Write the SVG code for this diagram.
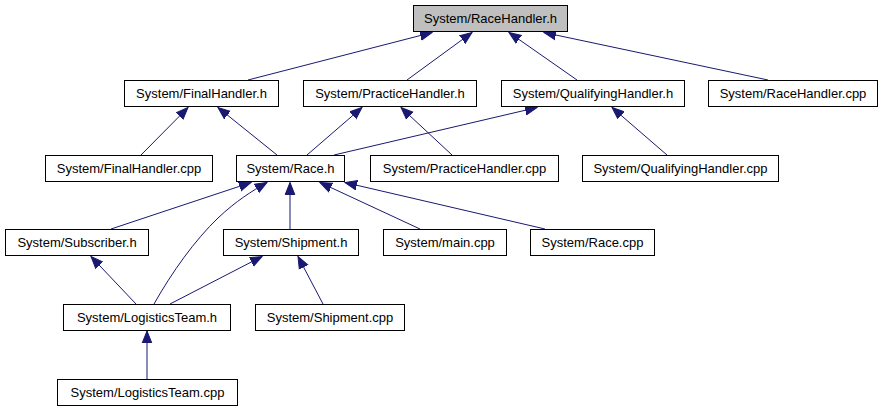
<svg xmlns="http://www.w3.org/2000/svg" width="883" height="411" viewBox="0 0 883 411">
<style>
.n rect{fill:#ffffff;stroke:#000000;stroke-width:1}
.n.root rect{fill:#bfbfbf}
.n text{font-family:"Liberation Sans",Arial,sans-serif;font-size:13px;fill:#000;text-anchor:middle}
.e path{fill:none;stroke:#191970;stroke-width:1;marker-end:url(#ah)}
</style>
<defs>
<marker id="ah" markerUnits="userSpaceOnUse" markerWidth="14" markerHeight="12" viewBox="0 -6 14 12" refX="12" refY="0" orient="auto">
<path d="M0,-4.8 L12,0 L0,4.8 Z" fill="#191970" stroke="#191970" stroke-width="1"/>
</marker>
</defs>
<rect width="883" height="411" fill="#ffffff"/>
<g id="edges" class="e">
<path d="M248,80 L432,32.5"/>
<path d="M407,80 L472,32.5"/>
<path d="M577,80 L509,32.5"/>
<path d="M768,80 L544,32.5"/>
<path d="M141,155 L188,107.5"/>
<path d="M277,155 L218,107.5"/>
<path d="M307,155 L362,107.5"/>
<path d="M452,155 L401,107.5"/>
<path d="M334,155 L537,107.5"/>
<path d="M667,155 L612,107.5"/>
<path d="M111,229 L251,182.5"/>
<path d="M154,304 C172,272 195,240 218,218 C236,201 252,191 267,182.5"/>
<path d="M290,229 L290,182.5"/>
<path d="M420,229 L320,182.5"/>
<path d="M545,229 L345,182.5"/>
<path d="M136,304 L91,256.5"/>
<path d="M170,304 L262,256.5"/>
<path d="M323,304 L298,256.5"/>
<path d="M147,379 L147,331"/>
</g>
<g id="n_racehandler_h" class="n root"><rect x="413.5" y="5.5" width="154" height="26"/><text x="490.5" y="23">System/RaceHandler.h</text></g>
<g id="n_finalhandler_h" class="n"><rect x="124.5" y="80.5" width="154" height="26"/><text x="201.5" y="98">System/FinalHandler.h</text></g>
<g id="n_practicehandler_h" class="n"><rect x="303.5" y="80.5" width="173" height="26"/><text x="390" y="98">System/PracticeHandler.h</text></g>
<g id="n_qualifyinghandler_h" class="n"><rect x="501.5" y="80.5" width="183" height="26"/><text x="593" y="98">System/QualifyingHandler.h</text></g>
<g id="n_racehandler_cpp" class="n"><rect x="708.5" y="80.5" width="169" height="26"/><text x="793" y="98">System/RaceHandler.cpp</text></g>
<g id="n_finalhandler_cpp" class="n"><rect x="45.5" y="155.5" width="167" height="26"/><text x="129" y="173">System/FinalHandler.cpp</text></g>
<g id="n_race_h" class="n"><rect x="236.5" y="155.5" width="108" height="26"/><text x="290.5" y="173">System/Race.h</text></g>
<g id="n_practicehandler_cpp" class="n"><rect x="370.5" y="155.5" width="188" height="26"/><text x="464.5" y="173">System/PracticeHandler.cpp</text></g>
<g id="n_qualifyinghandler_cpp" class="n"><rect x="582.5" y="155.5" width="196" height="26"/><text x="680.5" y="173">System/QualifyingHandler.cpp</text></g>
<g id="n_subscriber_h" class="n"><rect x="5.5" y="229.5" width="143" height="26"/><text x="77" y="247">System/Subscriber.h</text></g>
<g id="n_shipment_h" class="n"><rect x="223.5" y="229.5" width="135" height="26"/><text x="291" y="247">System/Shipment.h</text></g>
<g id="n_main_cpp" class="n"><rect x="383.5" y="229.5" width="123" height="26"/><text x="445" y="247">System/main.cpp</text></g>
<g id="n_race_cpp" class="n"><rect x="530.5" y="229.5" width="124" height="26"/><text x="592.5" y="247">System/Race.cpp</text></g>
<g id="n_logisticsteam_h" class="n"><rect x="63.5" y="304.5" width="167" height="26"/><text x="147" y="322">System/LogisticsTeam.h</text></g>
<g id="n_shipment_cpp" class="n"><rect x="255.5" y="304.5" width="149" height="26"/><text x="330" y="322">System/Shipment.cpp</text></g>
<g id="n_logisticsteam_cpp" class="n"><rect x="57.5" y="379.5" width="180" height="26"/><text x="147.5" y="397">System/LogisticsTeam.cpp</text></g>
</svg>
